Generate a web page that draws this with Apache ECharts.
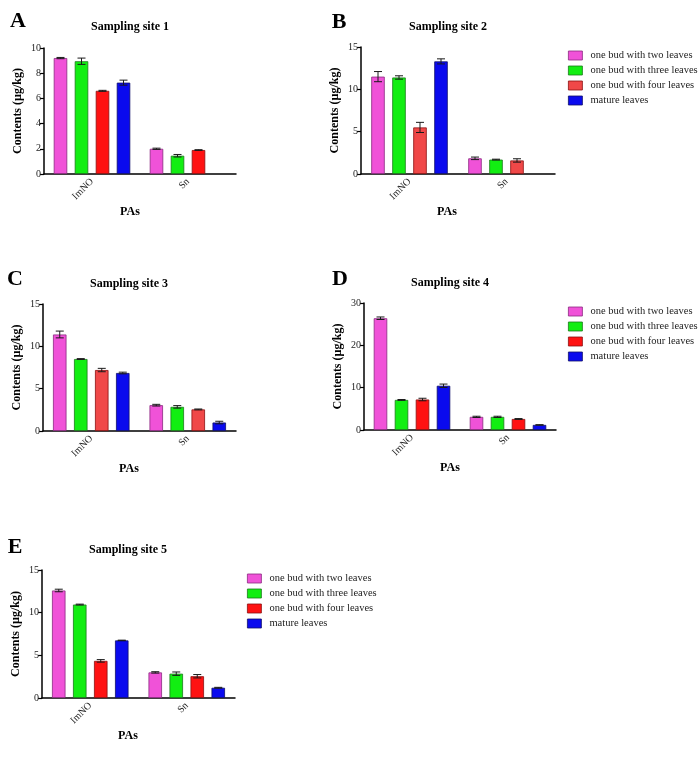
<!DOCTYPE html>
<html>
<head>
<meta charset="utf-8">
<script src="https://cdn.jsdelivr.net/npm/echarts@6/dist/echarts.min.js"></script>
<style>
html,body{margin:0;padding:0;background:#fff;}
#chart{width:699px;height:761px;}
</style>
</head>
<body>
<div id="chart"></div>
<script>
// ---------- DATA ----------
const categories = ['ImNO', 'Sn'];
const seriesNames = ['one bud with two leaves', 'one bud with three leaves', 'one bud with four leaves', 'mature leaves'];
const panelLetters = ['A', 'B', 'C', 'D', 'E'];
const panelTitles = ['Sampling site 1', 'Sampling site 2', 'Sampling site 3', 'Sampling site 4', 'Sampling site 5'];
const yMax = [10, 15, 15, 30, 15];
const yInterval = [2, 5, 5, 10, 5];

// values per site: [two leaves, three leaves, four leaves, mature] each [ImNO, Sn]
const site1Two = [9.2, 2.0],  site1Three = [8.95, 1.45], site1Four = [6.6, 1.9],  site1Mature = [7.25, null];
const site2Two = [11.5, 1.85], site2Three = [11.4, 1.7], site2Four = [5.5, 1.6],  site2Mature = [13.3, null];
const site3Two = [11.4, 3.05], site3Three = [8.5, 2.85], site3Four = [7.2, 2.55], site3Mature = [6.85, 1.0];
const site4Two = [26.4, 3.1],  site4Three = [7.1, 3.1],  site4Four = [7.2, 2.6],  site4Mature = [10.45, 1.2];
const site5Two = [12.6, 3.0],  site5Three = [10.95, 2.85], site5Four = [4.35, 2.55], site5Mature = [6.75, 1.2];

// error bars (same layout)
const site1TwoErr = [0.05, 0.05], site1ThreeErr = [0.25, 0.1],  site1FourErr = [0.04, 0.03], site1MatureErr = [0.2, null];
const site2TwoErr = [0.6, 0.15],  site2ThreeErr = [0.2, 0.05],  site2FourErr = [0.6, 0.2],   site2MatureErr = [0.3, null];
const site3TwoErr = [0.4, 0.1],   site3ThreeErr = [0.05, 0.15], site3FourErr = [0.2, 0.05],  site3MatureErr = [0.1, 0.15];
const site4TwoErr = [0.3, 0.15],  site4ThreeErr = [0.1, 0.15],  site4FourErr = [0.3, 0.1],   site4MatureErr = [0.4, 0.05];
const site5TwoErr = [0.15, 0.08], site5ThreeErr = [0.05, 0.2],  site5FourErr = [0.15, 0.2],  site5MatureErr = [0.03, 0.05];

const siteValues = [
  [site1Two, site1Three, site1Four, site1Mature],
  [site2Two, site2Three, site2Four, site2Mature],
  [site3Two, site3Three, site3Four, site3Mature],
  [site4Two, site4Three, site4Four, site4Mature],
  [site5Two, site5Three, site5Four, site5Mature]
];
const siteErrors = [
  [site1TwoErr, site1ThreeErr, site1FourErr, site1MatureErr],
  [site2TwoErr, site2ThreeErr, site2FourErr, site2MatureErr],
  [site3TwoErr, site3ThreeErr, site3FourErr, site3MatureErr],
  [site4TwoErr, site4ThreeErr, site4FourErr, site4MatureErr],
  [site5TwoErr, site5ThreeErr, site5FourErr, site5MatureErr]
];

// ---------- STYLE / LAYOUT ----------
const FONT = '"Liberation Serif", "Times New Roman", serif';
const pinkC = '#F052D8', greenC = '#12EE12', redC = '#FF1212', redLight = '#F04848', blueC = '#0A0AEE';
const borders = ['#8a2a80', '#1a7a1a', '#8a1010', '#10106a'];
const panelRed = [redC, redLight, redLight, redC, redC];

const grids = [
  {left: 44, top: 48, width: 192, height: 126},
  {left: 361, top: 47, width: 194, height: 127},
  {left: 43, top: 304, width: 193, height: 127},
  {left: 364, top: 303, width: 192, height: 127},
  {left: 42, top: 570, width: 193, height: 128}
];
const letterPos = [[18, 21], [339, 22], [15, 279], [340, 279], [15, 547]];
const titlePos = [[130, 27], [448, 27], [129, 284], [450, 283], [128, 550]];
const BAR_W = 13.5, BAR_GAP_PX = 7.5;
const STEP = BAR_W + BAR_GAP_PX;

const xAxes = [], yAxes = [], series = [], graphics = [];

grids.forEach((g, p) => {
  const colors = [pinkC, greenC, panelRed[p], blueC];
  xAxes.push({
    type: 'category', gridIndex: p, data: categories,
    axisLine: {lineStyle: {color: '#000', width: 1.5}},
    axisTick: {alignWithLabel: true, length: 4, lineStyle: {color: '#000', width: 1.2}},
    axisLabel: {rotate: 45, fontFamily: FONT, fontSize: 10, color: '#222', margin: 6}
  });
  yAxes.push({
    type: 'value', gridIndex: p, min: 0, max: yMax[p], interval: yInterval[p],
    splitLine: {show: false},
    axisLine: {show: true, lineStyle: {color: '#000', width: 1.5}},
    axisTick: {show: true, length: 4, lineStyle: {color: '#000', width: 1.2}},
    axisLabel: {fontFamily: FONT, fontSize: 10, color: '#222', margin: 3}
  });
  seriesNames.forEach((name, s) => {
    series.push({
      type: 'bar', name: name, xAxisIndex: p, yAxisIndex: p,
      data: siteValues[p][s].map(v => v === null ? '-' : v),
      barWidth: BAR_W, barGap: (BAR_GAP_PX / BAR_W * 100).toFixed(1) + '%',
      itemStyle: {color: colors[s], borderColor: borders[s], borderWidth: 0.8},
      animation: false
    });
  });
  const errData = [];
  siteValues[p].forEach((arr, s) => {
    arr.forEach((v, c) => {
      const e = siteErrors[p][s][c];
      if (v !== null && e !== null) errData.push([c, s, v, e]);
    });
  });
  series.push({
    type: 'custom', xAxisIndex: p, yAxisIndex: p, data: errData,
    encode: {x: 0, y: 2}, silent: true, animation: false, z: 5,
    renderItem: function (params, api) {
      const c = api.value(0), s = api.value(1), v = api.value(2), e = api.value(3);
      const base = api.coord([c, v]);
      const hi = api.coord([c, v + e]);
      const lo = api.coord([c, Math.max(0, v - e)]);
      const x = base[0] + (s - 1.5) * STEP;
      const cap = 4;
      const st = {stroke: '#1a1a1a', lineWidth: 1};
      return {type: 'group', children: [
        {type: 'line', shape: {x1: x, y1: hi[1], x2: x, y2: lo[1]}, style: st},
        {type: 'line', shape: {x1: x - cap, y1: hi[1], x2: x + cap, y2: hi[1]}, style: st},
        {type: 'line', shape: {x1: x - cap, y1: lo[1], x2: x + cap, y2: lo[1]}, style: st}
      ]};
    }
  });

  graphics.push({type: 'text', x: letterPos[p][0], y: letterPos[p][1],
    style: {text: panelLetters[p], font: 'bold 22px ' + FONT, fill: '#000', textAlign: 'center', textVerticalAlign: 'middle'}});
  graphics.push({type: 'text', x: titlePos[p][0], y: titlePos[p][1],
    style: {text: panelTitles[p], font: 'bold 12px ' + FONT, fill: '#000', textAlign: 'center', textVerticalAlign: 'middle'}});
  graphics.push({type: 'text', x: g.left - 26, y: g.top + g.height / 2, rotation: Math.PI / 2,
    style: {text: 'Contents (µg/kg)', font: 'bold 12px ' + FONT, fill: '#000', textAlign: 'center', textVerticalAlign: 'middle'}});
  graphics.push({type: 'text', x: g.left + 86, y: g.top + g.height + 38,
    style: {text: 'PAs', font: 'bold 12px ' + FONT, fill: '#000', textAlign: 'center', textVerticalAlign: 'middle'}});
});

function makeLegend(left, top, redColor) {
  const cols = [pinkC, greenC, redColor, blueC];
  return {
    orient: 'vertical', left: left, top: top, padding: 0, itemWidth: 14, itemHeight: 9, itemGap: 4,
    icon: 'rect', selectedMode: false,
    textStyle: {fontFamily: FONT, fontSize: 10.5, color: '#222', padding: [0, 0, 0, 3]},
    data: seriesNames.map((n, i) => ({name: n, itemStyle: {color: cols[i], borderColor: borders[i], borderWidth: 0.8}}))
  };
}

const option = {
  backgroundColor: '#fff',
  animation: false,
  grid: grids,
  xAxis: xAxes,
  yAxis: yAxes,
  legend: [makeLegend(568, 50, redLight), makeLegend(568, 306, redC), makeLegend(247, 573, redC)],
  series: series,
  graphic: graphics
};

const chart = echarts.init(document.getElementById('chart'), null, {renderer: 'canvas'});
chart.setOption(option);
</script>
</body>
</html>
